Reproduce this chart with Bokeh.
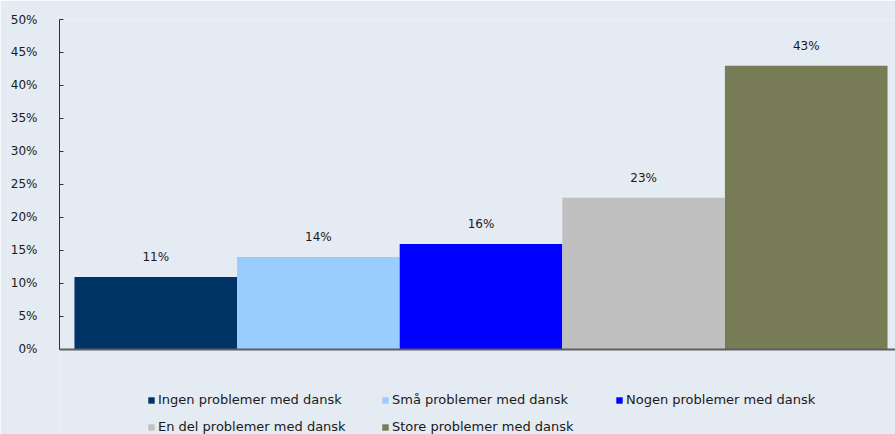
from bokeh.plotting import figure
from bokeh.models import ColumnDataSource, Range1d, FixedTicker, Legend, LegendItem, Span
from bokeh.embed import file_html
from bokeh.resources import INLINE
from bokeh.core.properties import value

# ---- data ----
categories = ["Ingen problemer med dansk", "Små problemer med dansk",
              "Nogen problemer med dansk", "En del problemer med dansk",
              "Store problemer med dansk"]
values = [11, 14, 16, 23, 43]
value_labels = ["11%", "14%", "16%", "23%", "43%"]
colors = ["#003366", "#99CCFF", "#0000FF", "#C0C0C0", "#777B56"]
y_ticks = [0, 5, 10, 15, 20, 25, 30, 35, 40, 45, 50]
y_tick_labels = ["0%", "5%", "10%", "15%", "20%", "25%", "30%", "35%", "40%", "45%", "50%"]

BG = "#E4EBF3"
FONT = "DejaVu Sans"
TXT = "#1a1a1a"

xs = list(range(len(categories)))
src = ColumnDataSource(dict(x=xs, top=values, color=colors, name=categories, lab=value_labels))

# frame extends below zero to leave room for the legend inside the plot area
p = figure(width=895, height=434, output_backend="svg", toolbar_location=None,
           x_range=Range1d(-0.592, 4.549), y_range=Range1d(-12.88, 50),
           min_border_left=59, min_border_top=19, min_border_right=0, min_border_bottom=0,
           background_fill_color=BG, border_fill_color=BG)
p.outline_line_color = None
p.grid.visible = False
p.xaxis.visible = False

renderers = []
for i in xs:
    r = p.vbar(x=[xs[i]], top=[values[i]], width=1.0, bottom=0,
               fill_color=colors[i], line_color=None)
    renderers.append(r)

p.text(x="x", y="top", text="lab", source=src, y_offset=-20,
       text_align="center", text_baseline="middle",
       text_font=value(FONT), text_font_size="12px", text_color=TXT)

# baseline (category axis line)
p.add_layout(Span(location=0, dimension="width", line_color="#5f5f5f", line_width=2))

# y axis
ya = p.yaxis[0]
ya.ticker = FixedTicker(ticks=y_ticks)
ya.bounds = (0, 50)
ya.major_label_overrides = {t: l for t, l in zip(y_ticks, y_tick_labels)}
ya.major_tick_in = 4
ya.major_tick_out = 0
ya.minor_tick_line_color = None
ya.axis_line_color = "#333333"
ya.major_tick_line_color = "#333333"
ya.major_label_standoff = 22
ya.major_label_text_font = FONT
ya.major_label_text_font_size = "12px"
ya.major_label_text_color = TXT

legend = Legend(items=[LegendItem(label=categories[i], renderers=[renderers[i]]) for i in xs],
                orientation="horizontal", ncols=3,
                location=(88, 0),
                glyph_width=8, glyph_height=8, label_standoff=3, label_width=211,
                label_height=14, spacing=12, padding=0, margin=0,
                label_text_font=FONT, label_text_font_size="13px", label_text_color=TXT,
                border_line_alpha=0, background_fill_alpha=0)
p.add_layout(legend, "center")

open("out.html", "w").write(file_html(p, INLINE))
